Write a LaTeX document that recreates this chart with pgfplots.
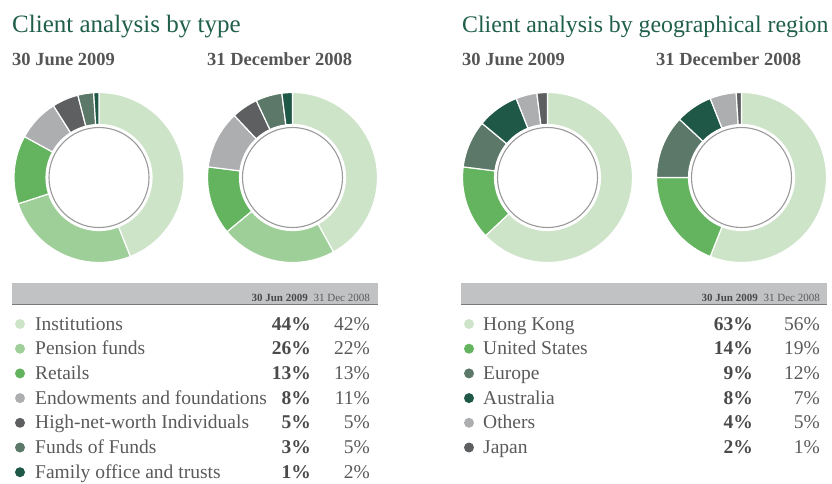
\documentclass[border=0pt]{standalone}
\usepackage{fontspec}
\setmainfont{Liberation Serif}
\usepackage{pgfplots}
\usepackage{pgfplotstable}
\pgfplotsset{compat=1.18}

\definecolor{cA}{HTML}{CDE4C9}
\definecolor{cB}{HTML}{9FCF98}
\definecolor{cC}{HTML}{64B35F}
\definecolor{cD}{HTML}{ADAEB0}
\definecolor{cE}{HTML}{5E5F61}
\definecolor{cF}{HTML}{5B7868}
\definecolor{cG}{HTML}{1F5846}
\definecolor{cTitle}{HTML}{1F5F4B}
\definecolor{cSub}{HTML}{555555}
\definecolor{cText}{HTML}{5A5A5A}
\definecolor{cBold}{HTML}{4A4A4A}
\definecolor{cBar}{HTML}{C1C2C4}
\definecolor{cBarLine}{HTML}{7A7A7A}
\definecolor{cRing}{HTML}{9A9A9A}

% client analysis by type
\pgfplotstableread[col sep=comma]{
label,jun,dec,color
Institutions,44,42,cA
Pension funds,26,22,cB
Retails,13,13,cC
Endowments and foundations,8,11,cD
High-net-worth Individuals,5,5,cE
Funds of Funds,3,5,cF
Family office and trusts,1,2,cG
}\typetable

% client analysis by region
\pgfplotstableread[col sep=comma]{
label,jun,dec,color
Hong Kong,63,56,cA
United States,14,19,cC
Europe,9,12,cF
Australia,8,7,cG
Others,4,5,cD
Japan,2,1,cE
}\regiontable

\newcommand\lfont{\fontsize{19.5}{23}\selectfont}

% donut: table, column, centre x, centre y
\newcommand\donut[4]{%
  \pgfplotstablegetrowsof{#1}%
  \pgfmathtruncatemacro\lastrow{\pgfplotsretval-1}%
  \def\acc{90}%
  \pgfplotsforeachungrouped \i in {0,...,\lastrow}{%
    \pgfplotstablegetelem{\i}{#2}\of{#1}%
    \pgfmathsetmacro\aend{\acc-3.6*\pgfplotsretval}%
    \pgfplotstablegetelem{\i}{color}\of{#1}%
    \let\col\pgfplotsretval
    \fill[fill=\col, draw=white, line width=1.2pt]
      ([shift={(\acc:85pt)}]axis cs:#3,#4) arc[start angle=\acc, end angle=\aend, radius=85pt]
      -- ([shift={(\aend:53pt)}]axis cs:#3,#4) arc[start angle=\aend, end angle=\acc, radius=53pt] -- cycle;
    \let\acc\aend
  }%
  \draw[cRing, line width=1.1pt] (axis cs:#3,#4) circle[radius=50pt];
}

% legend rows: table, x dot, x text, x bold (right), x regular (right)
\newcommand\legendrows[5]{%
  \pgfplotstablegetrowsof{#1}%
  \pgfmathtruncatemacro\lastrow{\pgfplotsretval-1}%
  \pgfplotsforeachungrouped \i in {0,...,\lastrow}{%
    \pgfmathsetmacro\yy{330+24.7*\i}%
    \pgfmathsetmacro\yd{\yy-6}%
    \pgfplotstablegetelem{\i}{color}\of{#1}\let\col\pgfplotsretval
    \fill[fill=\col] (axis cs:#2,\yd) circle[radius=5pt];
    \pgfplotstablegetelem{\i}{label}\of{#1}%
    \node[anchor=base west, inner sep=0pt, font=\lfont, text=cText] at (axis cs:#3,\yy) {\pgfplotsretval};
    \pgfplotstablegetelem{\i}{jun}\of{#1}%
    \node[anchor=base east, inner sep=0pt, font=\lfont\bfseries, text=cBold] at (axis cs:#4,\yy) {\pgfplotsretval\%};
    \pgfplotstablegetelem{\i}{dec}\of{#1}%
    \node[anchor=base east, inner sep=0pt, font=\lfont, text=cText] at (axis cs:#5,\yy) {\pgfplotsretval\%};
  }%
}

\begin{document}
\begin{tikzpicture}
\useasboundingbox (0,0) rectangle (832pt,483pt);
\begin{axis}[
  hide axis, x=1pt, y=1pt,
  xmin=0, xmax=832, ymin=0, ymax=483,
  y dir=reverse, clip=false,
  anchor=south west, at={(0,0)},
]
\addplot[draw=none] coordinates {(0,0)};
\pgfplotsextra{%
  % headings
  \node[anchor=base west, inner sep=0pt, font=\fontsize{25}{29}\selectfont, text=cTitle] at (axis cs:12,32) {Client analysis by type};
  \node[anchor=base west, inner sep=0pt, font=\fontsize{23.8}{28}\selectfont, text=cTitle] at (axis cs:462,32) {Client analysis by geographical region};
  \node[anchor=base west, inner sep=0pt, font=\fontsize{18.5}{21}\selectfont\bfseries, text=cSub] at (axis cs:12,65) {30 June 2009};
  \node[anchor=base west, inner sep=0pt, font=\fontsize{18.5}{21}\selectfont\bfseries, text=cSub] at (axis cs:207,65) {31 December 2008};
  \node[anchor=base west, inner sep=0pt, font=\fontsize{18.5}{21}\selectfont\bfseries, text=cSub] at (axis cs:462,65) {30 June 2009};
  \node[anchor=base west, inner sep=0pt, font=\fontsize{18.5}{21}\selectfont\bfseries, text=cSub] at (axis cs:656,65) {31 December 2008};
  % donuts
  \donut{\typetable}{jun}{99}{177.5}
  \donut{\typetable}{dec}{292.5}{177.5}
  \donut{\regiontable}{jun}{547.5}{177.5}
  \donut{\regiontable}{dec}{741.5}{177.5}
  % table headers
  \fill[cBar] (axis cs:12,283) rectangle (axis cs:378,304);
  \draw[cBarLine, line width=1pt] (axis cs:12,304.5) -- (axis cs:378,304.5);
  \fill[cBar] (axis cs:461,283) rectangle (axis cs:827,304);
  \draw[cBarLine, line width=1pt] (axis cs:461,304.5) -- (axis cs:827,304.5);
  \node[anchor=base east, inner sep=0pt, font=\fontsize{11}{13}\selectfont\bfseries, text=cBold] at (axis cs:308,301) {30 Jun 2009};
  \node[anchor=base east, inner sep=0pt, font=\fontsize{11}{13}\selectfont, text=cText] at (axis cs:370,301) {31 Dec 2008};
  \node[anchor=base east, inner sep=0pt, font=\fontsize{11}{13}\selectfont\bfseries, text=cBold] at (axis cs:758,301) {30 Jun 2009};
  \node[anchor=base east, inner sep=0pt, font=\fontsize{11}{13}\selectfont, text=cText] at (axis cs:820,301) {31 Dec 2008};
  % legends with values
  \legendrows{\typetable}{20}{35}{311}{370}
  \legendrows{\regiontable}{469}{483}{753}{820}
}
\end{axis}
\end{tikzpicture}
\end{document}
